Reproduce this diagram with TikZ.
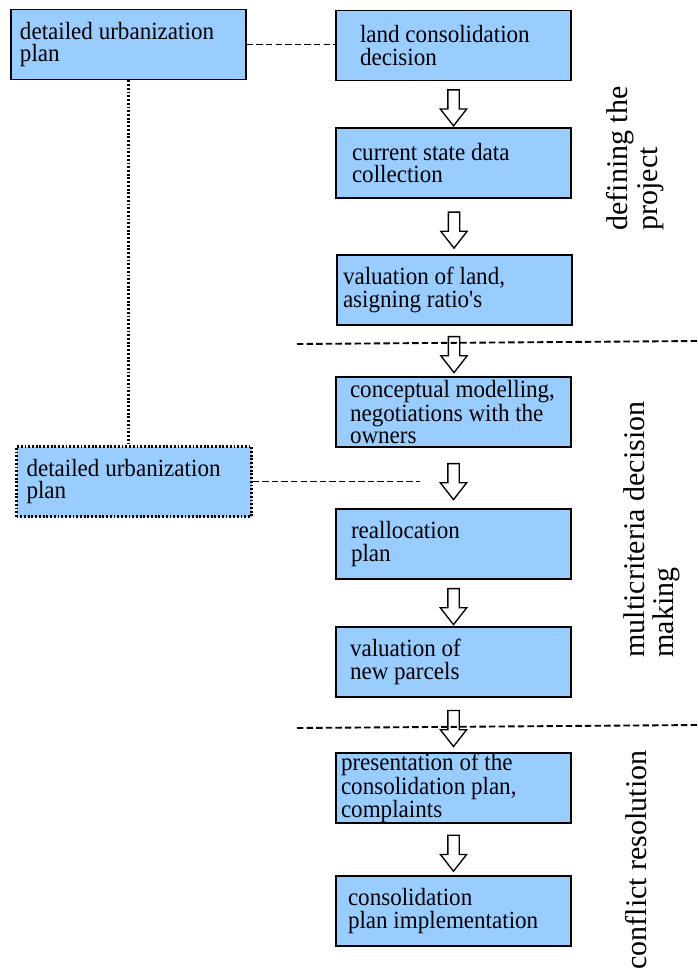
\documentclass[tikz,border=0pt]{standalone}
\usepackage{fontspec}
\setmainfont{Liberation Serif}
\newfontfamily\boxfont[FakeStretch=0.93]{Liberation Serif}
\usepackage{xcolor}
\usetikzlibrary{positioning, calc, shapes.arrows}
\definecolor{boxblue}{RGB}{153,204,255}

\tikzset{
  stage/.style={draw=black, fill=boxblue, line width=1.3pt,
    minimum width=176.25pt, minimum height=52.5pt,
    inner xsep=#1, inner ysep=0pt, text width=176.25pt-2*#1, align=flush left,
    font=\boxfont\fontsize{18.6}{16.8}\selectfont},
  stage/.default=10pt,
  downarrow/.style={single arrow, draw=black, fill=white, line width=1pt,
    rotate=-90, inner sep=3.75pt, minimum height=27pt,
    single arrow head extend=5.6pt, single arrow tip angle=76},
  phase/.style={rotate=90, align=left, font=\fontsize{22.5}{22}\selectfont},
  link/.style={line width=1.4pt, dash pattern=on 4.8pt off 2.4pt},
  dotlink/.style={line width=1.6pt, dash pattern=on 1.4pt off 1.4pt},
}

\begin{document}
\begin{tikzpicture}[x=0.75pt, y=-0.75pt]

    \useasboundingbox (0,0) rectangle (697,972);

    % --- Left column: urbanization plans ---
    \node[stage=6.75pt] (plan1) at (128.5,44.5) {detailed urbanization\\plan};
    \node[stage=7.5pt, dotlink] (plan2) at (134,481.5) {detailed urbanization\\plan};

    % --- Right column: procedure steps ---
    \node[stage=18pt]   (decision)  at (453.5,45.5) {land consolidation\\decision};
    \node[stage=12pt]   (survey)    at (453.5,163)  {current state data\\collection};
    \node[stage=4.5pt]  (valuation) at (454.5,290)  {valuation of land,\\asigning ratio's};
    \node[stage=10.5pt] (modelling) at (453.5,412)  {conceptual modelling,\\negotiations with the\\owners};
    \node[stage=11.25pt](realloc)   at (453.5,544)  {reallocation\\plan};
    \node[stage=10.5pt] (newval)    at (453.5,662)  {valuation of\\new parcels};
    \node[stage=3.75pt] (present)   at (453.5,788)  {presentation of the\\consolidation plan,\\complaints};
    \node[stage=9pt]    (implement) at (453.5,911)  {consolidation\\plan implementation};

    % --- Block arrows between the steps ---
    \node[downarrow] (arr1) at ($(decision.south)!0.5!(survey.north)$) {};
    \node[downarrow] (arr2) at ($(survey.south)!0.5!(valuation.north)$) {};
    \node[downarrow] (arr3) at ($(valuation.south)!0.5!(modelling.north)$) {};
    \node[downarrow] (arr4) at ($(modelling.south)!0.5!(realloc.north)$) {};
    \node[downarrow] (arr5) at ($(realloc.south)!0.5!(newval.north)$) {};
    \node[downarrow] (arr6) at ($(newval.south)!0.5!(present.north)$) {};
    \node[downarrow] (arr7) at ($(present.south)!0.5!(implement.north)$) {};

    % --- Links from the urbanization plans ---
    \draw[link] (plan1.east) -- (plan1.east -| decision.west);
    \draw[dotlink] (plan1.south) -- (plan1.south |- plan2.north);
    \coordinate (plan2end) at (420,481.5);
    \draw[link] (plan2.east) -- (plan2end);

    % --- Phase separators ---
    \coordinate (sepAw) at (297,344);
    \coordinate (sepAe) at (697,341);
    \coordinate (sepBw) at (297,728);
    \coordinate (sepBe) at (697,725);
    \draw[link] (sepAw) -- (sepAe);
    \draw[link] (sepBw) -- (sepBe);

    % --- Phase labels ---
    \node[phase] (defining) at (635,158.5)  {defining the\\project};
    \node[phase] (mcdm)     at (652,529.5)  {multicriteria decision\\making};
    \node[phase] (conflict) at (636.5,860)  {conflict resolution};

\end{tikzpicture}
\end{document}
